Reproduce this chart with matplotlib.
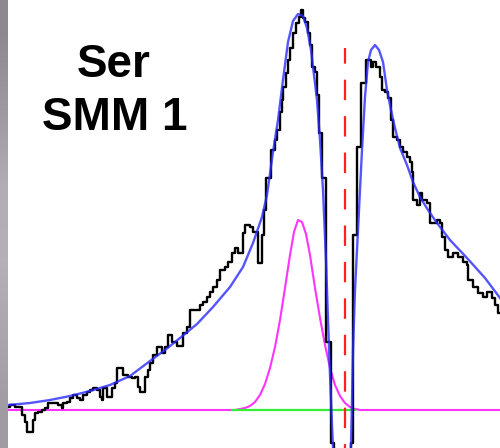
import numpy as np
import matplotlib
matplotlib.use("Agg")
import matplotlib.pyplot as plt

# observed spectrum (step levels: channel start, intensity)
obs_v = [8, 10, 15, 22, 25, 27, 33, 35, 38, 42, 45, 48, 58, 62, 63, 67, 70, 73, 77, 80,
         83, 87, 90, 93, 97, 100, 102, 103, 107, 112, 115, 117, 123, 128, 132, 135, 138, 140, 145, 148,
         150, 153, 157, 162, 165, 168, 172, 177, 183, 187, 190, 200, 203, 207, 210, 213, 217, 220, 225, 228,
         232, 235, 238, 243, 245, 250, 253, 258, 262, 264, 266, 271, 275, 277, 280, 282, 283, 286, 288, 290,
         293, 296, 299, 301, 303, 305, 308, 310, 312, 315, 317, 319, 322, 326, 331, 334, 351, 353, 357, 361,
         366, 371, 373, 376, 380, 382, 385, 388, 391, 393, 397, 400, 403, 407, 410, 412, 413, 417, 420, 422,
         427, 430, 437, 440, 442, 445, 448, 453, 458, 463, 467, 468, 473, 478, 483, 487, 492, 495, 498, 500]
obs_t = [3, 5, 3, -5, -12, -22, -10, -3, -2, 0, 2, 7, 5, 2, 7, 8, 12, 15, 12, 10,
         15, 18, 20, 22, 20, 13, 10, 22, 13, 22, 27, 42, 35, 33, 32, 33, 23, 18, 33, 40,
         47, 55, 63, 57, 63, 75, 68, 64, 77, 83, 100, 105, 108, 113, 118, 123, 130, 140, 143, 148,
         157, 162, 157, 177, 185, 183, 178, 147, 175, 200, 232, 260, 270, 280, 298, 310, 323, 337, 350, 362,
         377, 387, 393, 400, 392, 388, 377, 365, 343, 338, 315, 277, 232, 68, -33, -70, -33, 175, 263, 327,
         350, 343, 348, 343, 333, 320, 318, 312, 290, 273, 270, 263, 258, 253, 248, 238, 210, 205, 217, 210,
         207, 187, 190, 187, 173, 160, 153, 157, 153, 148, 145, 130, 123, 117, 113, 118, 112, 105, 97, 97]

# total fit
fit_v = [8, 30, 50, 70, 90, 110, 130, 150, 165, 180, 197, 213, 230, 243, 253, 262, 267, 273, 278, 283,
         288, 293, 298, 303, 307, 311, 314, 317, 320, 323, 326, 328, 330, 332, 334, 337, 342, 348, 351, 352,
         353, 355, 358, 362, 365, 368, 371, 375, 379, 383, 387, 391, 395, 400, 407, 413, 420, 428, 437, 450,
         467, 485, 500]
fit_t = [5, 7, 10, 14, 19, 25, 34, 49, 60, 72, 86, 103, 123, 143, 167, 193, 215, 258, 290, 330,
         368, 389, 396, 394, 382, 360, 335, 310, 270, 220, 150, 90, 35, -15, -60, -120, -150, -90, -35, 10,
         60, 120, 180, 260, 313, 348, 360, 365, 360, 348, 320, 300, 282, 262, 245, 228, 213, 200, 187, 170,
         152, 132, 112]

# gaussian component
gau_v = [8, 235, 240, 245, 250, 255, 260, 265, 270, 275, 280, 285, 290, 294, 298, 302, 306, 310, 315, 320,
         325, 330, 335, 340, 345, 350, 355, 360, 365, 500]
gau_t = [0, 0, 1, 2, 4, 8, 15, 26, 42, 63, 90, 122, 155, 178, 190, 188, 176, 155, 122, 92,
         65, 42, 25, 14, 7, 3, 1, 0, 0, 0]

base_v = [232, 355]
v_sys = 345
v_sys_top = 362

fig = plt.figure(figsize=(5.0, 4.48), dpi=100)

# grey strip on the left edge
strip = fig.add_axes([0, 0, 8 / 500, 1])
grad = np.array([[[0.56, 0.54, 0.57]], [[0.62, 0.60, 0.63]], [[0.70, 0.68, 0.71]],
                 [[0.71, 0.69, 0.72]], [[0.67, 0.65, 0.68]], [[0.63, 0.61, 0.64]]])
strip.imshow(grad, aspect="auto", interpolation="bilinear")
strip.axis("off")

ax = fig.add_axes([8 / 500, 0, 492 / 500, 1])
ax.plot(gau_v, gau_t, color="#ff33ff", lw=1.5, zorder=2)
ax.plot(base_v, [0, 0], color="#33ee33", lw=1.6, zorder=2.5)
ax.plot(obs_v, obs_t, color="black", lw=1.7, drawstyle="steps-post", zorder=3)
ax.plot(fit_v, fit_t, color="#2a2aff", lw=1.7, alpha=0.8, zorder=4)
ax.vlines(v_sys, -40, v_sys_top, color="#ff2020", lw=1.6, linestyles=(7, (9.2, 7.2)), zorder=5)

ax.set_xlim(8, 500)
ax.set_ylim(-38, 410)
ax.axis("off")

fig.text(114 / 500, 1 - 77 / 448, "Ser", ha="center", va="baseline",
         fontsize=33, fontweight="bold", family="Liberation Sans")
fig.text(115 / 500, 1 - 130 / 448, "SMM 1", ha="center", va="baseline",
         fontsize=33, fontweight="bold", family="Liberation Sans")

fig.savefig("out.png", dpi=100)
